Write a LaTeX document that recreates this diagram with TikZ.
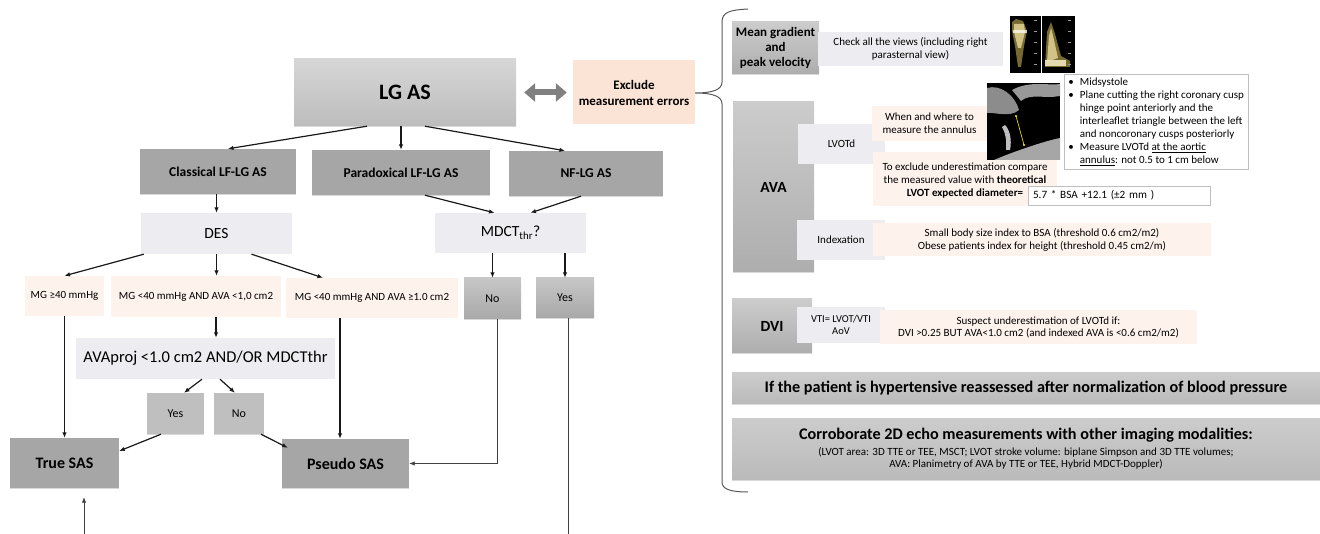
\documentclass[tikz,border=0pt]{standalone}
\usepackage{fontspec}
\setmainfont{Carlito}
\usetikzlibrary{arrows.meta}
\usetikzlibrary{shadows}
\definecolor{typegray}{HTML}{A6A6A6}
\definecolor{answergray}{HTML}{BFBFBF}
\definecolor{testgray}{HTML}{EDEDF1}
\definecolor{critpeach}{HTML}{FDF2EC}
\definecolor{notepeach}{HTML}{FBE4D5}
\definecolor{bracegray}{HTML}{595959}
\definecolor{dopyellow}{HTML}{D9C25A}
\tikzstyle{box}=[inner sep=2pt, align=center]
\tikzstyle{shaded box}=[box, drop shadow={shadow xshift=0pt, shadow yshift=-1.2pt, opacity=0.3}]
\tikzstyle{main box}=[shaded box, top color=black!16, bottom color=black!26, font=\fontsize{22}{26}\selectfont\bfseries]
\tikzstyle{type box}=[shaded box, fill=typegray, font=\fontsize{13.5}{16}\selectfont\bfseries]
\tikzstyle{test box}=[box, fill=testgray]
\tikzstyle{crit box}=[box, fill=critpeach, font=\fontsize{11}{13}\selectfont]
\tikzstyle{answer box}=[shaded box, top color=black!22, bottom color=black!34, font=\fontsize{12}{14}\selectfont]
\tikzstyle{result box}=[shaded box, fill=typegray, font=\fontsize{16}{19}\selectfont\bfseries]
\tikzstyle{topic box}=[shaded box, top color=black!20, bottom color=black!32, font=\fontsize{15.5}{18}\selectfont\bfseries]
\tikzstyle{param box}=[box, fill=testgray, font=\fontsize{11}{13}\selectfont]
\tikzstyle{note box}=[box, fill=critpeach, font=\fontsize{11}{13}\selectfont]
\tikzstyle{frame box}=[box, draw=black!25, fill=white]
\tikzstyle{bar box}=[shaded box, top color=black!20, bottom color=black!27, minimum width=588pt]
\tikzstyle{flow}=[-{Latex[length=5.5pt, width=4.5pt]}, line width=1.2pt, black!90]
\tikzstyle{thin flow}=[line width=0.8pt, black!75]

\begin{document}
\begin{tikzpicture}[x=1pt, y=-1pt]
  \useasboundingbox (0,0) rectangle (1320,534);
  % flow chart
  \node[main box, minimum width=222pt, minimum height=67pt] (lgas) at (405,92.5) {LG AS};
  \node[box, fill=notepeach, minimum width=122pt, minimum height=64pt,
    font=\fontsize{13}{16}\selectfont\bfseries] (exclude) at (634,92.5) {Exclude\\measurement errors};
  \node[type box, minimum width=156pt, minimum height=45pt] (classical) at (218,171.5) {Classical LF-LG AS};
  \node[type box, minimum width=178pt, minimum height=45pt] (paradox) at (401,172.5) {Paradoxical LF-LG AS};
  \node[type box, minimum width=154pt, minimum height=45pt] (nflg) at (586,173.5) {NF-LG AS};
  \node[test box, minimum width=151pt, minimum height=41pt, font=\fontsize{15.5}{18}\selectfont] (des) at (216.5,233.5) {DES};
  \node[test box, minimum width=151pt, minimum height=40pt, font=\fontsize{15.5}{18}\selectfont] (mdct) at (510.5,233) {MDCT\textsubscript{thr}?};
  \node[crit box, minimum width=79pt, minimum height=40pt] (mg1) at (64.5,296) {MG ≥40 mmHg};
  \node[crit box, minimum width=170pt, minimum height=41pt] (mg2) at (196,296.5) {MG <40 mmHg AND AVA <1,0 cm2};
  \node[crit box, minimum width=172pt, minimum height=40pt] (mg3) at (372,298) {MG <40 mmHg AND AVA ≥1.0 cm2};
  \node[answer box, minimum width=57pt, minimum height=41pt] (nomd) at (492.5,298.5) {No};
  \node[answer box, minimum width=58pt, minimum height=40pt] (yesmd) at (565,298) {Yes};
  \node[test box, minimum width=259pt, minimum height=41pt, font=\fontsize{16.5}{19}\selectfont] (avaproj) at (205.5,358.5) {AVAproj <1.0 cm2 AND/OR MDCTthr};
  \node[shaded box, fill=answergray, minimum width=57pt, minimum height=41pt, font=\fontsize{12}{14}\selectfont] (yesa) at (175.5,413.5) {Yes};
  \node[shaded box, fill=answergray, minimum width=50pt, minimum height=41pt, font=\fontsize{12}{14}\selectfont] (noa) at (239,413.5) {No};
  \node[result box, minimum width=109pt, minimum height=50pt] (truesas) at (64.5,463) {True SAS};
  \node[result box, minimum width=127pt, minimum height=49pt] (pseudo) at (345.5,463.5) {Pseudo SAS};
  \coordinate (yesbottom) at (568,534);
  \coordinate (truebottom) at (84,534);

  \draw[{Triangle[length=11pt, width=18pt]}-{Triangle[length=11pt, width=18pt]}, line width=6pt, black!50]
    ([xshift=8pt]lgas.east) -- ([xshift=-6pt]exclude.west);
  \draw[flow] ([xshift=-38pt]lgas.south) -- ([xshift=10pt]classical.north);
  \draw[flow] (paradox.north |- lgas.south) -- (paradox.north);
  \draw[flow] ([xshift=20pt]lgas.south) -- ([xshift=-21pt]nflg.north);
  \draw[flow] (des.north |- classical.south) -- (des.north);
  \draw[flow] ([xshift=24pt]paradox.south) -- ([xshift=-16pt]mdct.north);
  \draw[flow] ([xshift=-5pt]nflg.south) -- ([xshift=20pt]mdct.north);
  \draw[flow] ([xshift=3pt]des.south west) -- (mg1.north);
  \draw[flow] (des.south) -- (des.south |- mg2.north);
  \draw[flow] ([xshift=35pt]des.south) -- ([xshift=-49pt]mg3.north);
  \draw[flow] (nomd.north |- mdct.south) -- (nomd.north);
  \draw[flow] (yesmd.north |- mdct.south) -- (yesmd.north);
  \draw[flow] ([xshift=20pt]mg2.south) -- ([xshift=20pt]mg2.south |- avaproj.north);
  \draw[flow] ([xshift=-3.5pt]avaproj.south) -- ([xshift=8.5pt]yesa.north);
  \draw[flow] ([xshift=14.5pt]avaproj.south) -- ([xshift=-4pt]noa.north);
  \draw[flow] (mg1.south) -- (truesas.north);
  \draw[flow] ([xshift=-14.5pt]yesa.south) -- ([yshift=12pt]truesas.east);
  \draw[flow] ([xshift=22pt]noa.south) -- ([xshift=6pt, yshift=-9pt]pseudo.north west);
  \draw[flow] ([xshift=-32pt]mg3.south) -- ([xshift=-32pt]mg3.south |- pseudo.north);
  \draw[thin flow, -{Latex[length=5.5pt, width=4.5pt]}] ([xshift=4.5pt]nomd.south) |- (pseudo.east);
  \draw[thin flow] ([xshift=3pt]yesmd.south) -- (yesbottom);
  \draw[thin flow, -{Latex[length=5.5pt, width=4.5pt]}] (truebottom) -- ([xshift=19.5pt, yshift=-9pt]truesas.south);

  % measurement checks
  \node[topic box, minimum width=87pt, minimum height=52pt, font=\fontsize{13}{15}\selectfont\bfseries] (meangrad) at (775.5,48) {Mean gradient\\and\\peak velocity};
  \node[param box, minimum width=185pt, minimum height=34pt] (views) at (910.5,49) {Check all the views (including right\\parasternal view)};
  \node[topic box, minimum width=81pt, minimum height=170pt] (ava) at (773.5,187) {AVA};
  \node[param box, minimum width=87pt, minimum height=40pt] (lvotd) at (841.5,144) {LVOTd};
  \node[note box, minimum width=115pt, minimum height=35pt] (whenwhere) at (929.5,123.5) {When and where to\\measure the annulus};
  \node[note box, minimum width=184pt, minimum height=54pt, text depth=0pt] (underest) at (965,179.5) {To exclude underestimation compare\\the measured value with \textbf{theoretical}\\\textbf{LVOT expected diameter=}};
  \node[frame box, text width=172pt, align=left, inner xsep=5pt, minimum height=19pt, font=\fontsize{11.2}{13}\selectfont] (formula) at (1119,195.5) {5.7 * BSA +12.1 (±2 mm )};
  \node[param box, minimum width=88pt, minimum height=40pt] (index) at (841,240) {Indexation};
  \node[note box, minimum width=338pt, minimum height=33pt] (bodysize) at (1042,239.5) {Small body size index to BSA (threshold 0.6 cm2/m2)\\Obese patients index for height (threshold 0.45 cm2/m)};
  \node[frame box, anchor=north west, minimum width=184pt, minimum height=89pt, font=\fontsize{11}{13}\selectfont] (landmarks) at (1064,74) {%
    \begin{tabular}{@{}l@{\hspace{6pt}}l@{}}
      \textbullet & Midsystole\\
      \textbullet & Plane cutting the right coronary cusp\\
       & hinge point anteriorly and the\\
       & interleaflet triangle between the left\\
       & and noncoronary cusps posteriorly\\
      \textbullet & Measure LVOTd \underline{at the aortic}\\
       & \underline{annulus}: not 0.5 to 1 cm below
    \end{tabular}};
  \node[topic box, minimum width=80pt, minimum height=54pt] (dvi) at (772,326) {DVI};
  \node[param box, minimum width=88pt, minimum height=36pt, font=\fontsize{10.5}{12}\selectfont] (vti) at (841,325) {VTI= LVOT/VTI\\AoV};
  \node[note box, minimum width=317pt, minimum height=34pt, font=\fontsize{11}{12}\selectfont] (suspect) at (1038.5,327) {Suspect underestimation of LVOTd if:\\DVI >0.25 BUT AVA<1.0 cm2 (and indexed AVA is <0.6 cm2/m2)};
  \node[bar box, minimum height=31pt, font=\fontsize{16.2}{19}\selectfont\bfseries] (hyper) at (1026,388.5) {If the patient is hypertensive reassessed after normalization of blood pressure};
  \node[bar box, minimum height=61pt, font=\fontsize{11}{12}\selectfont] (imaging) at (1026,449) {%
    {\fontsize{16.2}{19}\selectfont\bfseries Corroborate 2D echo measurements with other imaging modalities:}\\[4pt]
    (LVOT area: 3D TTE or TEE, MSCT; LVOT stroke volume: biplane Simpson and 3D TTE volumes;\\
    AVA: Planimetry of AVA by TTE or TEE, Hybrid MDCT-Doppler)};

  % brace
  \draw[bracegray, line width=1pt] (748,9) .. controls (730,10) and (722,12) .. (722,22) -- (722,82)
    .. controls (722,90) and (712,93) .. (695,93) .. controls (712,93) and (722,96) .. (722,104)
    -- (722,482) .. controls (722,489) and (730,492) .. (748,492);

  % doppler views
  \fill[black] (1010,16) rectangle (1041,73);
  \fill[black] (1042,16) rectangle (1075,73);
  \fill[dopyellow, opacity=0.55] (1012,22) -- (1016,19) -- (1023,21) -- (1027,31) -- (1024,46)
    -- (1021,67) -- (1018,67) -- (1015,46) -- (1012,31) -- cycle;
  \fill[dopyellow!60!white, opacity=0.8] (1014,24) -- (1024,24) -- (1025,32) -- (1021,48) -- (1018,48) -- (1014,32) -- cycle;
  \fill[white, opacity=0.7] (1013,30) rectangle (1027,33);
  \fill[dopyellow, opacity=0.55] (1045,67) -- (1047,32) -- (1051,22) -- (1055,34) -- (1061,56)
    -- (1070,61) -- (1070,67) -- cycle;
  \fill[dopyellow!60!white, opacity=0.8] (1047,62) -- (1049,36) -- (1051,28) -- (1054,40) -- (1058,58) -- cycle;
  \fill[dopyellow!40!white, opacity=0.9] (1045,60) rectangle (1066,66);
  \foreach \ty in {20,31,42,53,64} {
    \draw[black!40, line width=0.6pt] (1034,\ty) -- (1037,\ty);
    \draw[black!40, line width=0.6pt] (1068,\ty) -- (1071,\ty);
  }

  % echo view of the annulus
  \fill[black] (987,83) rectangle (1060,160);
  \fill[black!45] (987,88) .. controls (1000,84) and (1015,95) .. (1019,110)
    .. controls (1010,118) and (995,112) .. (987,113) -- cycle;
  \fill[black!40] (1012,90) .. controls (1030,80) and (1050,86) .. (1060,84) -- (1060,96)
    .. controls (1045,99) and (1030,93) .. (1021,101) -- cycle;
  \fill[black!35] (994,160) .. controls (1015,151) and (1045,141) .. (1060,138) -- (1060,160) -- cycle;
  \fill[black!25] (1005,125) .. controls (1010,130) and (1012,140) .. (1010,150) -- (1006,150)
    .. controls (1007,140) and (1005,132) .. (1002,127) -- cycle;
  \draw[yellow, line width=0.6pt] (1016,116) -- (1024,145);
  \fill[yellow] (1016,116) circle (1.2) (1024,145) circle (1.2);
\end{tikzpicture}
\end{document}
